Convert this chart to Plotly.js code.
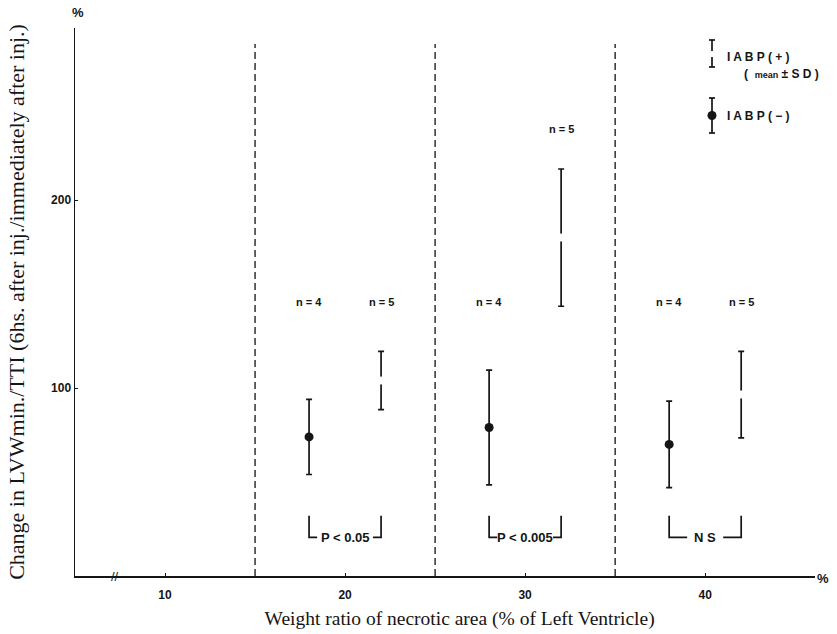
<!DOCTYPE html>
<html>
<head>
<meta charset="utf-8">
<script src="https://cdn.plot.ly/plotly-3.0.1.min.js"></script>
<style>html,body{margin:0;padding:0;background:#fff;}#chart{width:837px;height:634px;}</style>
</head>
<body>
<div id="chart"></div>
<script>
// ---- data ----
const xMinus = [18, 28, 38];          // IABP(-) group positions (% of LV)
const meanMinus = [74, 79, 70];
const sdMinus = [20, 30.5, 23];
const xPlus = [22, 32, 42];           // IABP(+) group positions
const meanPlus = [104, 180, 96.5];
const sdPlus = [15.5, 36.5, 23];
const nMinus = [4, 4, 4];
const nPlus = [5, 5, 5];
const groupBounds = [15, 25, 35];
const pLabels = ['P < 0.05', 'P < 0.005', 'N S'];
const xTicks = [10, 20, 30, 40];
const yTicks = [100, 200];

const INK = '#151515';
const sansB = {family: 'Liberation Sans, Arial, sans-serif', size: 12, color: INK, weight: 'bold'};
const withSize = s => Object.assign({}, sansB, {size: s});

const W = 837, H = 634, ML = 75, MR = 22, MT = 28, MB = 58;
const px2x = p => (p - ML) / (W - ML - MR);
const px2y = p => (H - MB - p) / (H - MT - MB);

const traces = [
  {
    x: xMinus, y: meanMinus, type: 'scatter', mode: 'markers', name: 'IABP(-)',
    marker: {color: INK, size: 9},
    error_y: {type: 'data', array: sdMinus, visible: true, color: INK, thickness: 1.7, width: 3}
  },
  {
    x: xPlus, y: meanPlus, type: 'scatter', mode: 'markers', name: 'IABP(+)',
    marker: {color: '#ffffff', size: 8, line: {width: 0}},
    error_y: {type: 'data', array: sdPlus, visible: true, color: INK, thickness: 1.7, width: 3}
  }
];

const shapes = [];
const annotations = [];
const note = (o) => annotations.push(Object.assign({showarrow: false, xanchor: 'center', yanchor: 'middle'}, o));

// group boundary dashed lines
groupBounds.forEach(b => shapes.push({
  type: 'line', xref: 'x', yref: 'y', x0: b, x1: b, y0: 0, y1: 283,
  line: {color: '#222', width: 1.4, dash: '7px,4px'}
}));

// significance brackets
pLabels.forEach((lab, i) => {
  const a = xMinus[i], b = xPlus[i];
  const s = lab === 'N S' ? 1.0 : 0.45;
  shapes.push({type: 'path', xref: 'x', yref: 'y',
    path: `M ${a},32 L ${a},20.5 L ${a + s},20.5`, line: {color: INK, width: 1.7}});
  shapes.push({type: 'path', xref: 'x', yref: 'y',
    path: `M ${b},32 L ${b},20.5 L ${b - s},20.5`, line: {color: INK, width: 1.7}});
  note({x: (a + b) / 2, y: 20.5, xref: 'x', yref: 'y', text: lab, font: withSize(13)});
});

// n labels (common row, raised above a bar that reaches the row)
xMinus.forEach((x, i) => note({x: x, y: Math.max(146, meanMinus[i] + sdMinus[i] + 21.5),
  xref: 'x', yref: 'y', text: 'n = ' + nMinus[i], font: withSize(11)}));
xPlus.forEach((x, i) => note({x: x, y: Math.max(146, meanPlus[i] + sdPlus[i] + 21.5),
  xref: 'x', yref: 'y', text: 'n = ' + nPlus[i], font: withSize(11)}));

// axis unit labels and break mark
note({xref: 'paper', yref: 'paper', x: px2x(78), y: px2y(13), text: '%', font: withSize(13)});
note({xref: 'paper', yref: 'paper', x: px2x(823), y: px2y(578), text: '%', font: withSize(13)});
note({xref: 'x', yref: 'paper', x: 7.2, y: 0, text: '//', font: {family: 'Liberation Sans, Arial, sans-serif', size: 13, color: INK}});

// custom legend (drawn as in the original figure)
const lx = 712;
const pline = (x0, y0, x1, y1) => shapes.push({type: 'line', xref: 'paper', yref: 'paper',
  x0: px2x(x0), x1: px2x(x1), y0: px2y(y0), y1: px2y(y1), line: {color: INK, width: 1.7}});
pline(lx, 40, lx, 51);
pline(lx, 57, lx, 67);
[40, 67, 98, 133].forEach(yy => pline(lx - 3, yy, lx + 3, yy));
pline(lx, 98, lx, 133);
shapes.push({type: 'circle', xref: 'paper', yref: 'paper', x0: px2x(lx - 4.5), x1: px2x(lx + 4.5), y0: px2y(111), y1: px2y(120),
  fillcolor: INK, line: {color: INK, width: 0}});
note({xref: 'paper', yref: 'paper', x: px2x(725), y: px2y(57), xanchor: 'left', text: 'I A B P ( + )', font: withSize(12)});
note({xref: 'paper', yref: 'paper', x: px2x(742), y: px2y(74), xanchor: 'left',
  text: '(  <span style="font-size:9px">mean</span> ± S D )', font: withSize(12)});
note({xref: 'paper', yref: 'paper', x: px2x(725), y: px2y(116), xanchor: 'left', text: 'I A B P ( − )', font: withSize(12)});

const layout = {
  width: W, height: H,
  margin: {l: ML, r: MR, t: MT, b: MB, pad: 0},
  paper_bgcolor: '#ffffff', plot_bgcolor: '#ffffff',
  showlegend: false,
  xaxis: {
    range: [5, 46.1], tickvals: xTicks, ticktext: xTicks.map(String),
    showgrid: false, zeroline: false, showline: true, linecolor: INK, linewidth: 1.5,
    ticks: 'inside', ticklen: 3, tickcolor: INK, tickfont: sansB, ticklabelstandoff: 7,
    title: {text: '\u200B\u2003\u2002Weight ratio of necrotic area (% of Left Ventricle)', standoff: 10,
      font: {family: 'Liberation Serif, Times New Roman, serif', size: 19.5, color: INK}},
    automargin: false
  },
  yaxis: {
    range: [0, 291.5], tickvals: yTicks, ticktext: yTicks.map(String),
    showgrid: false, zeroline: false, showline: true, linecolor: INK, linewidth: 1.5,
    ticks: 'inside', ticklen: 3, tickcolor: INK, tickfont: sansB,
    title: {text: 'Change in LVWmin./TTI (6hs. after inj./immediately after inj.)', standoff: 20,
      font: {family: 'Liberation Serif, Times New Roman, serif', size: 22, color: INK}},
    automargin: false
  },
  shapes: shapes,
  annotations: annotations
};

Plotly.newPlot('chart', traces, layout, {staticPlot: true, displayModeBar: false});
</script>
</body>
</html>
